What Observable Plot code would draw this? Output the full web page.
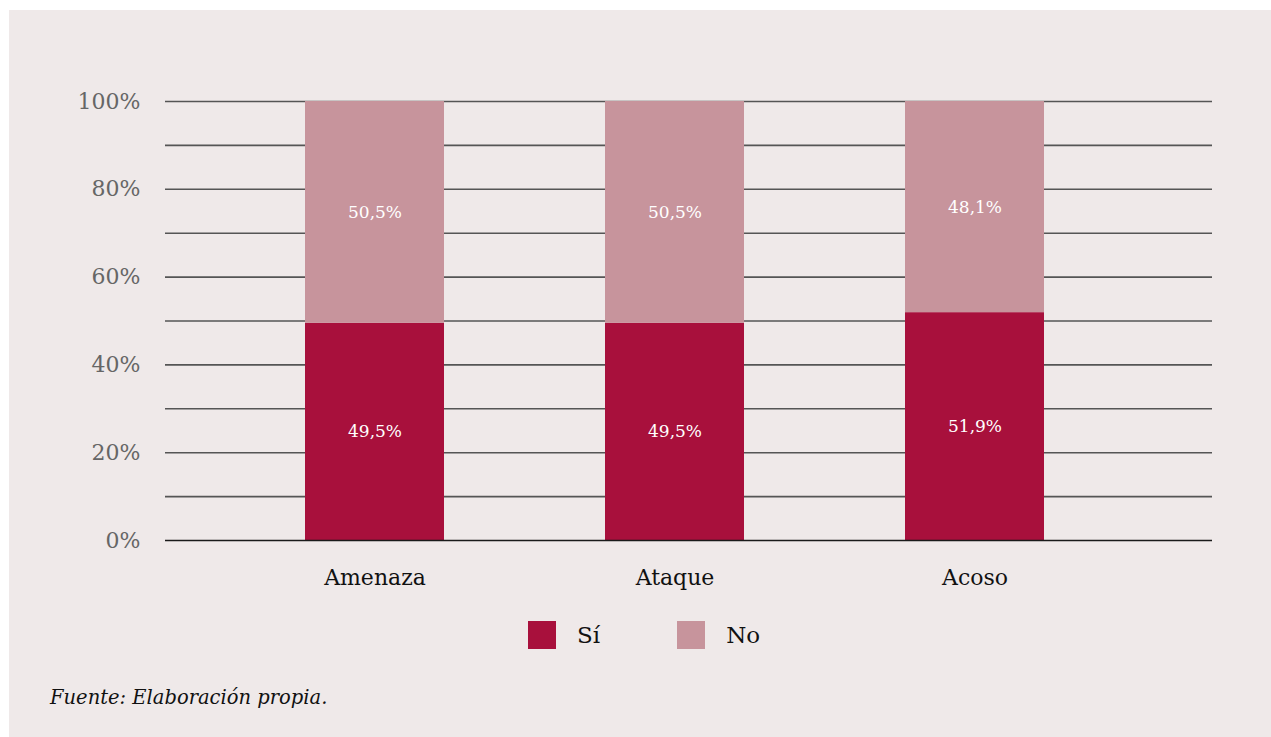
<!DOCTYPE html>
<html>
<head>
<meta charset="utf-8">
<script src="https://cdn.jsdelivr.net/npm/d3@7"></script>
<script src="https://cdn.jsdelivr.net/npm/@observablehq/plot@0.6"></script>
<style>
  html, body { margin: 0; padding: 0; background: #ffffff; }
  #panel {
    position: absolute; left: 9px; top: 10px; width: 1262px; height: 727px;
    background: #efe9e9; font-family: "DejaVu Serif", "Noto Serif", "Liberation Serif", serif;
  }
  #chart { position: absolute; left: 0; top: 0; }
  #legend {
    position: absolute; left: 519px; top: 611px; display: flex; align-items: center;
    font-size: 23px; color: #111;
  }
  .item { display: flex; align-items: center; margin-right: 77px; }
  .sw { width: 28px; height: 28px; margin-right: 21px; }
  #caption {
    position: absolute; left: 41px; top: 676px; font-style: italic; font-size: 19.5px; color: #111;
  }
</style>
</head>
<body>
<div id="panel">
  <div id="chart"></div>
  <div id="legend"></div>
  <div id="caption">Fuente: Elaboración propia.</div>
</div>
<script>
const categories = ["Amenaza", "Ataque", "Acoso"];
const seriesNames = ["Sí", "No"];
const siValues = [49.5, 49.5, 51.9];
const noValues = [50.5, 50.5, 48.1];
const seriesColors = ["#a8103c", "#c7949c"];
const gridTicks = [0, 0.1, 0.2, 0.3, 0.4, 0.5, 0.6, 0.7, 0.8, 0.9, 1];
const labelTicks = [0, 0.2, 0.4, 0.6, 0.8, 1];

const data = [];
categories.forEach((c, i) => data.push({cat: c, resp: "Sí", value: siValues[i]}));
categories.forEach((c, i) => data.push({cat: c, resp: "No", value: noValues[i]}));

const fmt = v => v.toFixed(1).replace(".", ",") + "%";
const serif = "'DejaVu Serif', 'Noto Serif', 'Liberation Serif', serif";

const chart = Plot.plot({
  width: 1262,
  height: 600,
  marginLeft: 156,
  marginRight: 59,
  marginTop: 91,
  marginBottom: 70,
  style: {fontFamily: serif, background: "transparent"},
  x: {domain: categories, paddingInner: 0.5367, paddingOuter: 0.5133, align: 0.4545, label: null},
  y: {domain: [0, 1], label: null},
  color: {domain: seriesNames, range: seriesColors},
  marks: [
    Plot.ruleY(gridTicks.slice(1), {stroke: "#555", strokeWidth: 1.6}),
    Plot.barY(data, {x: "cat", y: d => d.value / 100, fill: "resp", z: "resp"}),
    Plot.ruleY([0], {stroke: "#1a1a1a", strokeWidth: 1.6}),
    Plot.text(data, Plot.stackY({x: "cat", y: d => d.value / 100, z: "resp", text: d => fmt(d.value), fill: "white", fontSize: 17, fontFamily: serif})),
    Plot.axisY({ticks: labelTicks, tickSize: 0, tickPadding: 25, tickFormat: d => Math.round(d * 100) + "%", fontSize: 22, fontFamily: serif, color: "#666", label: null}),
    Plot.axisX({tickSize: 0, tickPadding: 29, fontSize: 22, fontFamily: serif, color: "#111", label: null})
  ]
});
document.getElementById("chart").appendChild(chart);

const legend = document.getElementById("legend");
seriesNames.forEach((s, i) => {
  const it = document.createElement("div");
  it.className = "item";
  const sw = document.createElement("div");
  sw.className = "sw";
  sw.style.background = seriesColors[i];
  const t = document.createElement("span");
  t.textContent = s;
  it.appendChild(sw); it.appendChild(t);
  legend.appendChild(it);
});
</script>
</body>
</html>
